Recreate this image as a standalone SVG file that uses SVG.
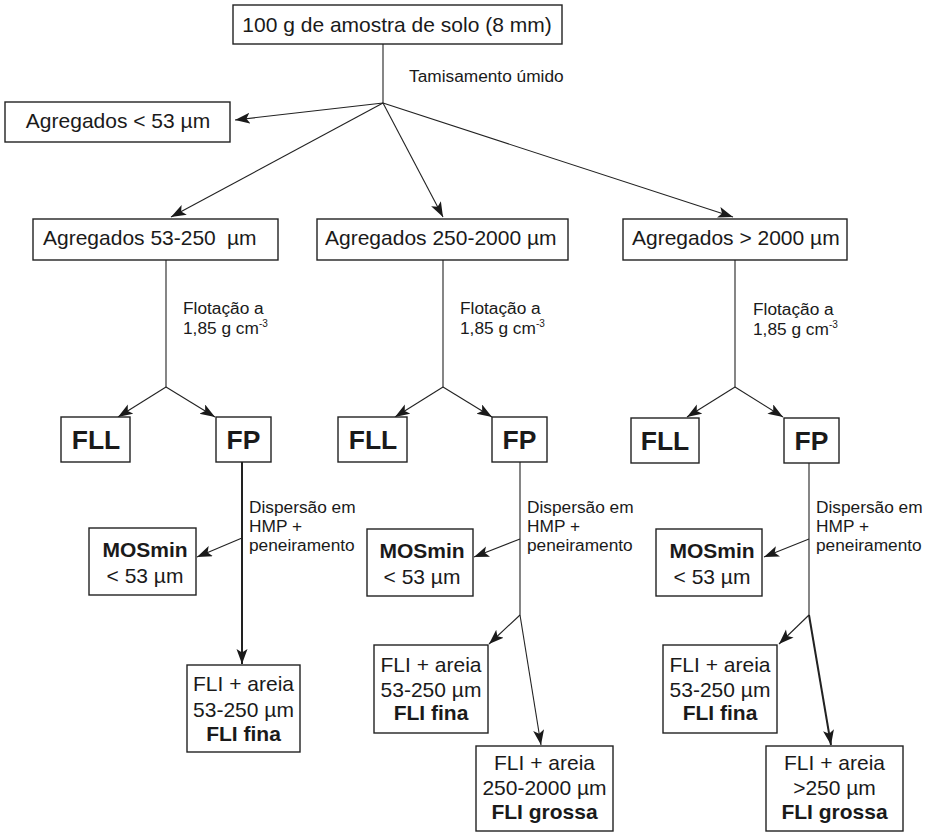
<svg xmlns="http://www.w3.org/2000/svg" width="931" height="832" viewBox="0 0 931 832">
<style>
.box{fill:#fff;stroke:#222;stroke-width:1.4}
.t{font-family:"Liberation Sans",Arial,sans-serif;font-size:21px;fill:#1a1a1a}
.c{text-anchor:middle}
.b{font-weight:bold}
.big{font-family:"Liberation Sans",Arial,sans-serif;font-size:26.5px;font-weight:bold;fill:#1a1a1a;text-anchor:middle}
.s{font-family:"Liberation Sans",Arial,sans-serif;font-size:17.3px;fill:#1a1a1a}
.sup{font-size:10px}
.ln{stroke:#222;stroke-width:1.1;fill:none}
.thk{stroke:#222;stroke-width:2;fill:none}
.ar{marker-end:url(#ah)}
</style>
<defs>
<marker id="ah" markerUnits="userSpaceOnUse" markerWidth="16" markerHeight="12" refX="15" refY="5.5" orient="auto">
<path d="M0,0 L15,5.5 L0,11 L3.5,5.5 z" fill="#1a1a1a"/>
</marker>
</defs>
<rect width="931" height="832" fill="#fff"/>
<g id="connectors">
<line class="ln" x1="383" y1="44" x2="383" y2="103"/>
<line class="ln ar" x1="383" y1="103" x2="235" y2="120"/>
<line class="ln ar" x1="383" y1="103" x2="171" y2="217"/>
<line class="ln ar" x1="383" y1="103" x2="443" y2="217"/>
<line class="ln ar" x1="383" y1="103" x2="733" y2="217"/>
<line class="ln" x1="166" y1="260" x2="166" y2="387"/>
<line class="ln ar" x1="166" y1="387" x2="118" y2="417"/>
<line class="ln ar" x1="166" y1="387" x2="215" y2="417"/>
<line class="ln" x1="443" y1="260" x2="443" y2="387"/>
<line class="ln ar" x1="443" y1="387" x2="395" y2="417"/>
<line class="ln ar" x1="443" y1="387" x2="492" y2="417"/>
<line class="ln" x1="735" y1="260" x2="735" y2="387"/>
<line class="ln ar" x1="735" y1="387" x2="687" y2="417"/>
<line class="ln ar" x1="735" y1="387" x2="783" y2="417"/>
<line class="thk ar" x1="242" y1="462" x2="242" y2="664"/>
<line class="ln ar" x1="242" y1="538" x2="197" y2="557"/>
<line class="ln" x1="520" y1="462" x2="520" y2="615"/>
<line class="ln ar" x1="520" y1="539" x2="474" y2="557"/>
<line class="ln ar" x1="520" y1="615" x2="489" y2="644"/>
<line class="ln ar" x1="520" y1="615" x2="541" y2="745"/>
<line class="ln" x1="809" y1="462" x2="809" y2="615"/>
<line class="ln ar" x1="809" y1="539" x2="764" y2="557"/>
<line class="ln ar" x1="809" y1="615" x2="779" y2="644"/>
<line class="thk ar" x1="809" y1="615" x2="831" y2="745"/>
</g>
<g id="labels">
<text class="s" x="409" y="82">Tamisamento úmido</text>
<text class="s" x="183" y="314">Flotação a</text>
<text class="s" x="183" y="334">1,85 g cm<tspan class="sup" dy="-7">-3</tspan></text>
<text class="s" x="460" y="314">Flotação a</text>
<text class="s" x="460" y="334">1,85 g cm<tspan class="sup" dy="-7">-3</tspan></text>
<text class="s" x="753" y="315">Flotação a</text>
<text class="s" x="753" y="335">1,85 g cm<tspan class="sup" dy="-7">-3</tspan></text>
<text class="s" x="249" y="513">Dispersão em</text>
<text class="s" x="249" y="532">HMP +</text>
<text class="s" x="249" y="551">peneiramento</text>
<text class="s" x="527" y="513">Dispersão em</text>
<text class="s" x="527" y="532">HMP +</text>
<text class="s" x="527" y="551">peneiramento</text>
<text class="s" x="816" y="513">Dispersão em</text>
<text class="s" x="816" y="532">HMP +</text>
<text class="s" x="816" y="551">peneiramento</text>
</g>
<g id="n-amostra">
<rect class="box" x="233" y="5" width="329" height="39"/>
<text class="t c" x="397" y="32">100 g de amostra de solo (8 mm)</text>
</g>
<g id="n-agr53">
<rect class="box" x="5" y="102" width="225" height="40"/>
<text class="t c" x="118" y="128">Agregados &lt; 53 µm</text>
</g>
<g id="n-agr53-250">
<rect class="box" x="33" y="219" width="245" height="41"/>
<text class="t" x="43" y="245">Agregados 53-250<tspan x="227">µm</tspan></text>
</g>
<g id="n-agr250-2000">
<rect class="box" x="317" y="219" width="251" height="41"/>
<text class="t" x="325" y="245">Agregados 250-2000 µm</text>
</g>
<g id="n-agr2000">
<rect class="box" x="623" y="219" width="224" height="41"/>
<text class="t" x="632" y="245">Agregados &gt; 2000 µm</text>
</g>
<g id="n-fll1"><rect class="box" x="61" y="417" width="69" height="45"/><text class="big" x="96" y="449">FLL</text></g>
<g id="n-fp1"><rect class="box" x="216" y="417" width="55" height="45"/><text class="big" x="243.5" y="449">FP</text></g>
<g id="n-fll2"><rect class="box" x="338" y="417" width="69" height="45"/><text class="big" x="373" y="449">FLL</text></g>
<g id="n-fp2"><rect class="box" x="492" y="417" width="55" height="45"/><text class="big" x="519.5" y="449">FP</text></g>
<g id="n-fll3"><rect class="box" x="631" y="418" width="68" height="45"/><text class="big" x="665" y="450">FLL</text></g>
<g id="n-fp3"><rect class="box" x="784" y="418" width="55" height="45"/><text class="big" x="811.5" y="450">FP</text></g>
<g id="n-mos1"><rect class="box" x="89" y="528" width="107" height="67"/><text class="t c b" x="145" y="557">MOSmin</text><text class="t c" x="145" y="583">&lt; 53 µm</text></g>
<g id="n-mos2"><rect class="box" x="367" y="529" width="106" height="67"/><text class="t c b" x="422" y="558">MOSmin</text><text class="t c" x="422" y="584">&lt; 53 µm</text></g>
<g id="n-mos3"><rect class="box" x="656" y="529" width="106" height="67"/><text class="t c b" x="712" y="558">MOSmin</text><text class="t c" x="712" y="584">&lt; 53 µm</text></g>
<g id="n-flifina1"><rect class="box" x="187" y="665" width="113" height="87"/><text class="t c" x="243.5" y="691">FLI + areia</text><text class="t c" x="243.5" y="717">53-250 µm</text><text class="t c b" x="243.5" y="741">FLI fina</text></g>
<g id="n-flifina2"><rect class="box" x="374" y="645" width="114" height="88"/><text class="t c" x="431" y="672">FLI + areia</text><text class="t c" x="431" y="697">53-250 µm</text><text class="t c b" x="431" y="720">FLI fina</text></g>
<g id="n-flifina3"><rect class="box" x="663" y="645" width="114" height="88"/><text class="t c" x="720" y="672">FLI + areia</text><text class="t c" x="720" y="697">53-250 µm</text><text class="t c b" x="720" y="720">FLI fina</text></g>
<g id="n-fligrossa2"><rect class="box" x="476" y="746" width="137" height="85"/><text class="t c" x="544.5" y="770">FLI + areia</text><text class="t c" x="544.5" y="795">250-2000 µm</text><text class="t c b" x="544.5" y="819">FLI grossa</text></g>
<g id="n-fligrossa3"><rect class="box" x="766" y="746" width="137" height="85"/><text class="t c" x="834.5" y="770">FLI + areia</text><text class="t c" x="834.5" y="795">&gt;250 µm</text><text class="t c b" x="834.5" y="819">FLI grossa</text></g>
</svg>
